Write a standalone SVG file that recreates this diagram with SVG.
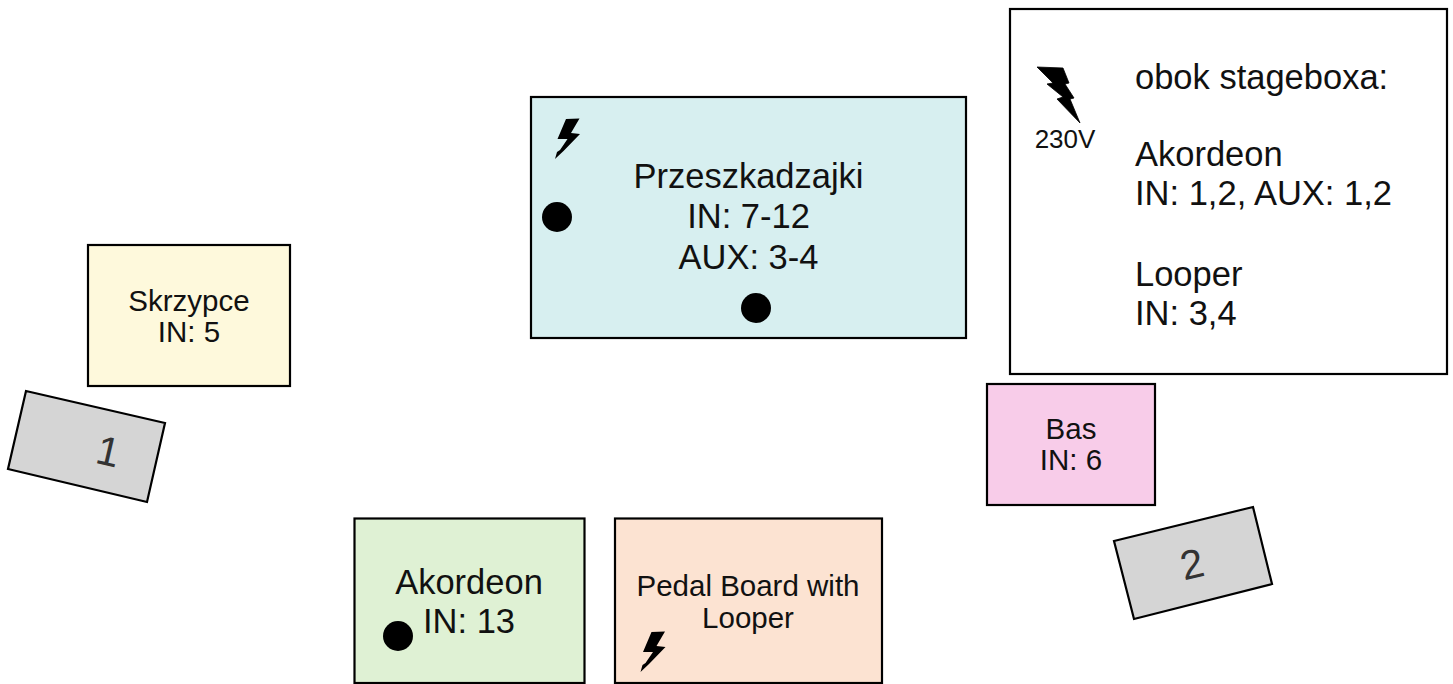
<svg xmlns="http://www.w3.org/2000/svg" width="1453" height="684" viewBox="0 0 1453 684">
<style>
.b{stroke:#000;stroke-width:2.2}
text{font-family:"Liberation Sans",Arial,sans-serif;fill:#111;text-anchor:middle}
.s{font-size:29.500px}.l{font-size:34.500px}
.la{text-anchor:start;font-size:34.500px}
.sm{font-size:26px}
.n{font-size:41px;fill:#333}
</style>
<defs>
<path id="bolt" d="M566 119L579.500 118.500L571 133L580 134L563.500 151L555 159L557 152L560 150L567.500 139L557.500 139Z"/>
</defs>
<rect width="1453" height="684" fill="#fff"/>
<g id="connectors"/>
<g id="skrzypce"><rect class="b" x="88" y="245" width="202" height="141" fill="#fef9dc"/><text class="s" x="189" y="311">Skrzypce</text><text class="s" x="189" y="342">IN: 5</text></g>
<g id="przeszkadzajki"><rect class="b" x="531" y="97" width="435" height="241" fill="#d7eff0"/>
<use href="#bolt"/><circle cx="557" cy="217" r="15"/><circle cx="756" cy="308" r="15"/>
<text class="l" x="748.500" y="188">Przeszkadzajki</text><text class="l" x="748.500" y="228">IN: 7-12</text><text class="l" x="748.500" y="269">AUX: 3-4</text></g>
<g id="info"><rect class="b" x="1010" y="9" width="437" height="365" fill="#fff"/>
<path stroke="#000" stroke-width="0.8" d="M1037 67L1063 68L1069 83L1065 84L1074 98L1070 99L1080 123L1057 99L1063 97L1047 84L1053 83Z"/>
<text class="sm" x="1065" y="148">230V</text>
<text class="la" x="1135" y="88.500">obok stageboxa:</text><text class="la" x="1135" y="166">Akordeon</text><text class="la" x="1135" y="205">IN: 1,2, AUX: 1,2</text><text class="la" x="1135" y="286">Looper</text><text class="la" x="1135" y="325">IN: 3,4</text></g>
<g id="bas"><rect class="b" x="987" y="384" width="168" height="121" fill="#f8cce9"/><text class="s" x="1071" y="439">Bas</text><text class="s" x="1071" y="470">IN: 6</text></g>
<g id="mic1"><polygon class="b" points="26,391 165,423 147,502 8,469" fill="#d5d5d5"/><text class="n" transform="translate(105 465) rotate(13)">1</text></g>
<g id="mic2"><polygon class="b" points="1114,541 1253,507 1272,584 1134,619" fill="#d5d5d5"/><text class="n" transform="translate(1195 578) rotate(-13)">2</text></g>
<g id="akordeon"><rect class="b" x="354.500" y="518.500" width="230" height="164.500" fill="#dff1d4"/><circle cx="398" cy="636" r="15"/><text class="l" x="469" y="594">Akordeon</text><text class="l" x="469" y="633">IN: 13</text></g>
<g id="pedal"><rect class="b" x="615" y="518.500" width="267" height="164.500" fill="#fce3d2"/><use href="#bolt" x="85.500" y="513"/><text class="s" x="748" y="596">Pedal Board with</text><text class="s" x="748" y="628">Looper</text></g>
</svg>
